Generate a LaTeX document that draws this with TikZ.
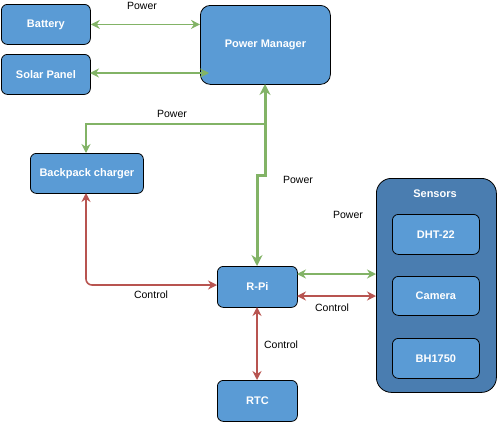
\documentclass[tikz,border=0pt]{standalone}
\usepackage{fontspec}
\setmainfont{Liberation Sans}
\usetikzlibrary{arrows.meta,calc}
\definecolor{boxblue}{HTML}{5A9BD5}
\definecolor{contblue}{HTML}{4A7DB0}
\definecolor{gline}{HTML}{82B366}
\definecolor{rline}{HTML}{B85450}
\tikzset{
  x=1pt,y=1pt,
  blk/.style={draw=black,line width=0.8pt,fill=boxblue,rounded corners=6pt,text=white,font=\fontsize{11}{13}\selectfont\bfseries,inner sep=0pt,anchor=north west},
  cont/.style={draw=black,line width=0.8pt,fill=contblue,rounded corners=15pt,anchor=north west,inner sep=0pt},
  lbl/.style={font=\fontsize{10.5}{12}\selectfont,text=black,inner sep=0pt},
  gthin/.style={draw=gline,line width=1.6pt,{Stealth[length=9pt,width=9pt]}-{Stealth[length=9pt,width=9pt]}},
  gone/.style={draw=gline,line width=1.6pt,-{Stealth[length=9pt,width=9pt]}},
  gthick/.style={draw=gline,line width=3pt,{Stealth[length=11pt,width=11pt]}-{Stealth[length=11pt,width=11pt]}},
  rthin/.style={draw=rline,line width=1.6pt,{Stealth[length=9pt,width=9pt]}-{Stealth[length=9pt,width=9pt]}},
}
\begin{document}
\begin{tikzpicture}
\useasboundingbox (0,0) rectangle (497,-423);
% boxes
\node[blk,minimum width=89pt,minimum height=40pt] (bat) at (1,-4) {Battery};
\node[blk,minimum width=89pt,minimum height=40pt] (sol) at (1,-54) {Solar Panel};
\node[blk,minimum width=130pt,minimum height=79pt,rounded corners=10pt] (pm) at (200,-5) {Power Manager};
\node[blk,minimum width=113pt,minimum height=40pt] (bpc) at (30,-153) {Backpack charger};
\node[blk,minimum width=80pt,minimum height=41pt] (rpi) at (217,-266) {R-Pi};
\node[blk,minimum width=80pt,minimum height=41pt] (rtc) at (217,-380) {RTC};
\node[cont,minimum width=120pt,minimum height=214pt] (sens) at (376,-178) {};
\node[text=white,font=\fontsize{11}{13}\selectfont\bfseries,inner sep=0pt] (senst) at (435,-194) {Sensors};
\node[blk,minimum width=87pt,minimum height=40pt] (dht) at (392,-214) {DHT-22};
\node[blk,minimum width=87pt,minimum height=39pt] (cam) at (392,-276) {Camera};
\node[blk,minimum width=87pt,minimum height=40pt] (bh) at (392,-338) {BH1750};
% coordinates
\coordinate (solend) at (209,-73);
\coordinate (solst) at (90,-73);
\coordinate (pmb) at (265,-84);
\coordinate (jog1) at (265,-175);
\coordinate (jog2) at (257,-175);
\coordinate (rpit) at (257,-266);
\coordinate (br) at (265,-124);
\coordinate (brc) at (86,-124);
\coordinate (bpct) at (86,-153);
\coordinate (bpcb) at (86,-193);
\coordinate (rc) at (86,-285);
\coordinate (rpil) at (217,-285);
\coordinate (rpig) at (297,-274);
\coordinate (sensg) at (376,-274);
\coordinate (rpir) at (297,-296);
\coordinate (sensr) at (376,-296);
\coordinate (rpib) at (257,-307);
\coordinate (rtct) at (257,-380);
% connectors
\draw[gthin] (bat.east) -- (bat.east -| pm.west);
\draw[gthin] (solst) -- (solend);
\draw[gone] (br) -- (brc) -- (bpct);
\draw[gthick] (pmb) -- (jog1) -- (jog2) -- (rpit);
\draw[rthin,rounded corners=6pt] (bpcb) -- (rc) -- (rpil);
\draw[gthin] (rpig) -- (sensg);
\draw[rthin] (rpir) -- (sensr);
\draw[rthin] (rpib) -- (rtct);
% labels
\node[lbl] (l1) at (142,-6) {Power};
\node[lbl] (l2) at (172,-114) {Power};
\node[lbl] (l3) at (298,-180) {Power};
\node[lbl] (l4) at (348,-215) {Power};
\node[lbl] (l5) at (151,-295) {Control};
\node[lbl] (l6) at (332,-308) {Control};
\node[lbl] (l7) at (281,-345) {Control};
\end{tikzpicture}
\end{document}
